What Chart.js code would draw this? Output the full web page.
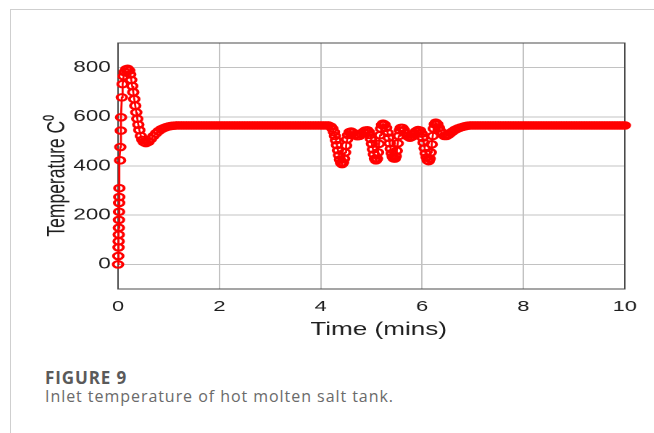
<!DOCTYPE html>
<html>
<head>
<meta charset="utf-8">
<script src="https://cdn.jsdelivr.net/npm/chart.js@4.4.1/dist/chart.umd.min.js"></script>
<style>
  body { margin: 0; background: #fff; width: 654px; height: 433px; overflow: hidden; position: relative; }
  #card { position: absolute; left: 10px; top: 9px; width: 660px; height: 440px; border-left: 1px solid #cfcfcf; border-top: 1px solid #cfcfcf; }
  /* the source figure is stretched sideways, so the chart is drawn narrow and widened */
  #wrap { position: absolute; left: 10px; top: 0; width: 444px; height: 345px; transform: scaleX(1.45); transform-origin: 0 0; }
  .cap1 { position: absolute; left: 45px; top: 368px; font: bold 17px "Open Sans", sans-serif; color: #5a5a5a; line-height: 20px; letter-spacing: 0.9px; }
  .cap2 { position: absolute; left: 45px; top: 387px; font: 16px "Open Sans", sans-serif; color: #6a6a6a; line-height: 18px; letter-spacing: 0.95px; }
</style>
</head>
<body>
<div id="card"></div>
<div id="wrap"><canvas id="tempChart" width="444" height="345"></canvas></div>
<div class="cap1">FIGURE 9</div>
<div class="cap2">Inlet temperature of hot molten salt tank.</div>
<script>
// data

// start-up
const tStart = [0, 0.005, 0.01, 0.012, 0.014, 0.016, 0.018, 0.02, 0.022, 0.024,
  0.026, 0.04, 0.045, 0.055, 0.06, 0.075, 0.09, 0.11, 0.13, 0.16,
  0.19, 0.22, 0.24, 0.26, 0.28, 0.30, 0.32, 0.34, 0.36, 0.38,
  0.40, 0.42, 0.45, 0.48, 0.51, 0.55, 0.60, 0.65, 0.70, 0.75,
  0.80, 0.85, 0.90, 0.95, 1.00, 1.05, 1.10, 1.15, 1.20];
const yStart = [0, 34, 69, 94, 121, 149, 181, 214, 250, 274,
  310, 423, 477, 544, 598, 679, 733, 765, 782, 793,
  795, 788, 772, 750, 725, 700, 672, 645, 618, 592,
  568, 546, 522, 506, 497, 493, 498, 510, 522, 533,
  542, 549, 554, 558, 561, 563, 564, 565, 565];

// first steady part
const tSteady1 = [1.25, 1.30, 1.35, 1.40, 1.45, 1.50, 1.55, 1.60, 1.65, 1.70,
  1.75, 1.80, 1.85, 1.90, 1.95, 2.00, 2.05, 2.10, 2.15, 2.20,
  2.25, 2.30, 2.35, 2.40, 2.45, 2.50, 2.55, 2.60, 2.65, 2.70,
  2.75, 2.80, 2.85, 2.90, 2.95, 3.00, 3.05, 3.10, 3.15, 3.20,
  3.25, 3.30, 3.35, 3.40, 3.45, 3.50, 3.55, 3.60, 3.65, 3.70,
  3.75, 3.80, 3.85, 3.90, 3.95, 4.00, 4.05, 4.10, 4.15];
const ySteady1 = [565, 565, 565, 565, 565, 565, 565, 565, 565, 565,
  565, 565, 565, 565, 565, 565, 565, 565, 565, 565,
  565, 565, 565, 565, 565, 565, 565, 565, 565, 565,
  565, 565, 565, 565, 565, 565, 565, 565, 565, 565,
  565, 565, 565, 565, 565, 565, 565, 565, 565, 565,
  565, 565, 565, 565, 565, 565, 565, 565, 565];

// disturbance
const tDist = [4.20, 4.23, 4.26, 4.28, 4.30, 4.32, 4.34, 4.36, 4.38, 4.40,
  4.42, 4.44, 4.46, 4.48, 4.50, 4.52, 4.54, 4.57, 4.60, 4.64,
  4.68, 4.72, 4.76, 4.80, 4.84, 4.88, 4.92, 4.95, 4.97, 4.99,
  5.01, 5.03, 5.05, 5.07, 5.09, 5.11, 5.13, 5.15, 5.17, 5.19,
  5.21, 5.23, 5.26, 5.29, 5.32, 5.34, 5.36, 5.38, 5.40, 5.42,
  5.44, 5.46, 5.48, 5.50, 5.52, 5.54, 5.56, 5.58, 5.61, 5.64,
  5.68, 5.72, 5.76, 5.80, 5.84, 5.88, 5.92, 5.96, 5.99, 6.01,
  6.03, 6.05, 6.07, 6.09, 6.11, 6.13, 6.15, 6.17, 6.19, 6.21,
  6.23, 6.25, 6.27, 6.30, 6.33, 6.36, 6.40, 6.44, 6.48, 6.52,
  6.56, 6.60, 6.65, 6.70, 6.75, 6.80, 6.85, 6.90, 6.95];
const yDist = [560, 552, 538, 522, 505, 485, 464, 444, 426, 413,
  408, 414, 430, 455, 483, 508, 526, 538, 540, 535,
  527, 521, 522, 530, 538, 544, 545, 538, 526, 510,
  490, 468, 447, 430, 423, 430, 455, 490, 525, 552,
  567, 572, 568, 555, 535, 515, 492, 470, 452, 438,
  431, 430, 440, 462, 492, 522, 545, 555, 555, 546,
  532, 520, 515, 519, 530, 541, 546, 544, 532, 515,
  495, 472, 452, 435, 423, 420, 430, 455, 488, 522,
  552, 570, 576, 570, 556, 542, 530, 522, 522, 527,
  534, 540, 547, 552, 556, 559, 562, 564, 565];

// second steady part
const tSteady2 = [7.00, 7.05, 7.10, 7.15, 7.20, 7.25, 7.30, 7.35, 7.40, 7.45,
  7.50, 7.55, 7.60, 7.65, 7.70, 7.75, 7.80, 7.85, 7.90, 7.95,
  8.00, 8.05, 8.10, 8.15, 8.20, 8.25, 8.30, 8.35, 8.40, 8.45,
  8.50, 8.55, 8.60, 8.65, 8.70, 8.75, 8.80, 8.85, 8.90, 8.95,
  9.00, 9.05, 9.10, 9.15, 9.20, 9.25, 9.30, 9.35, 9.40, 9.45,
  9.50, 9.55, 9.60, 9.65, 9.70, 9.75, 9.80, 9.85, 9.90, 9.95,
  10.00];
const ySteady2 = [565, 565, 565, 565, 565, 565, 565, 565, 565, 565,
  565, 565, 565, 565, 565, 565, 565, 565, 565, 565,
  565, 565, 565, 565, 565, 565, 565, 565, 565, 565,
  565, 565, 565, 565, 565, 565, 565, 565, 565, 565,
  565, 565, 565, 565, 565, 565, 565, 565, 565, 565,
  565, 565, 565, 565, 565, 565, 565, 565, 565, 565,
  565];

const xTicks = [0, 2, 4, 6, 8, 10];
const yTicks = [0, 200, 400, 600, 800];

const timeMin = [...tStart, ...tSteady1, ...tDist, ...tSteady2];
const tempC = [...yStart, ...ySteady1, ...yDist, ...ySteady2];
const points = timeMin.map((t, i) => ({ x: t, y: tempC[i] }));

Chart.defaults.font.family = '"Liberation Sans", Arial, sans-serif';
Chart.defaults.color = '#1e1e1e';

// box round the plot, as in the original
const boxPlugin = {
  id: 'box',
  beforeDatasetsDraw(chart) {
    const a = chart.chartArea;
    const ctx = chart.ctx;
    ctx.save();
    ctx.strokeStyle = '#4a4a4a';
    ctx.lineWidth = 1;
    ctx.strokeRect(a.left, a.top, a.right - a.left, a.bottom - a.top);
    ctx.restore();
  }
};

new Chart("tempChart", {
  type: "line",
  data: {
    datasets: [{
      data: points,
      borderColor: "#ff0000",
      borderWidth: 1.4,
      pointStyle: "circle",
      pointRadius: 3.3,
      pointBorderWidth: 2,
      pointBorderColor: "#ff0000",
      pointBackgroundColor: "rgba(255,255,255,0)",
      fill: false,
      clip: false
    }]
  },
  options: {
    responsive: false,
    devicePixelRatio: 2,
    animation: false,
    layout: { padding: { top: 43, right: 20, bottom: 0, left: 0 } },
    plugins: { legend: { display: false }, tooltip: { enabled: false } },
    scales: {
      x: {
        type: "linear",
        min: 0,
        max: 10,
        afterBuildTicks: s => { s.ticks = xTicks.map(v => ({ value: v })); },
        afterFit: s => { s.height = 56; },
        ticks: { font: { size: 15 }, padding: 9, maxRotation: 0 },
        grid: { color: "#c2c2c2", drawTicks: false },
        border: { color: "#4a4a4a" },
        title: { display: true, text: "  Time (mins)", font: { size: 18 }, padding: { top: 0, bottom: 4 } }
      },
      y: {
        min: -100,
        max: 900,
        afterBuildTicks: s => { s.ticks = yTicks.map(v => ({ value: v })); },
        afterFit: s => { s.width = 74.5; },
        ticks: { font: { size: 15.5 }, padding: 5 },
        grid: { color: "#c2c2c2", drawTicks: false },
        border: { color: "#4a4a4a" },
        title: { display: true, text: "Temperature C\u2070    ", font: { size: 17.5 }, padding: { top: 22, bottom: 0 } }
      }
    }
  },
  plugins: [boxPlugin]
});
</script>
</body>
</html>
